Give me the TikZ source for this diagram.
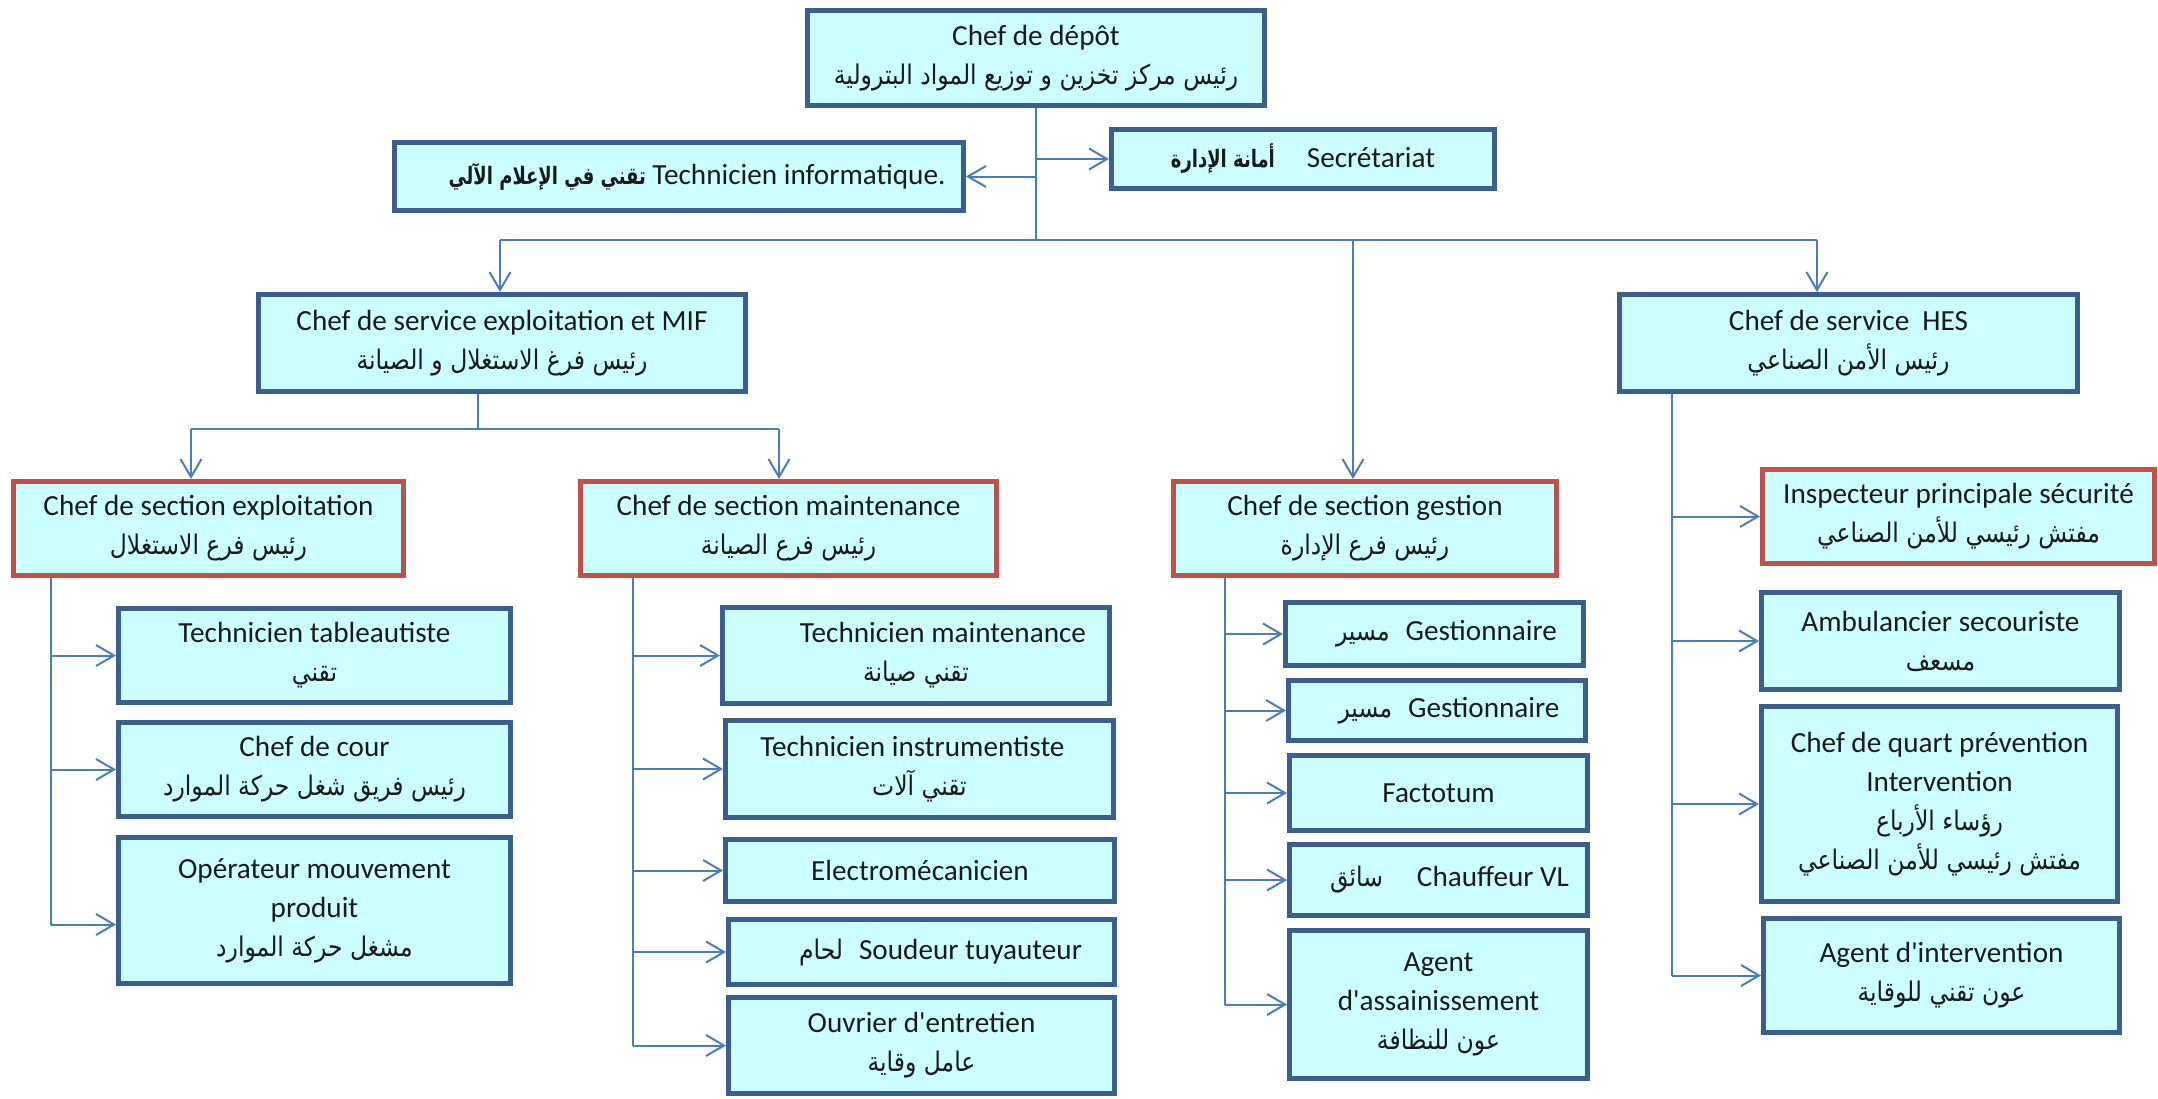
\documentclass[tikz,border=0pt]{standalone}
\usepackage{fontspec}
\setmainfont{Carlito}[Ligatures=TeXOff]
\newfontfamily\arfont[Script=Arabic,FakeStretch=0.87]{DejaVu Sans}
\newfontfamily\arcond[Script=Arabic,FakeStretch=0.75]{DejaVu Sans}
\TeXXeTstate=1
\usetikzlibrary{arrows.meta}
\definecolor{boxfill}{HTML}{CCFFFF}
\definecolor{boxnavy}{HTML}{3A5F8F}
\definecolor{boxred}{HTML}{C0504D}
\definecolor{linkblue}{HTML}{4A7EBB}
\definecolor{txtcol}{HTML}{1A1A1A}
\newcommand\artx[1]{{\arfont\fontsize{13.5}{19.5}\selectfont\beginR#1\endR}}
\newcommand\artb[1]{{\arcond\bfseries\fontsize{12}{19.5}\selectfont\beginR#1\endR}}
\tikzset{
  box/.style={draw=boxnavy, line width=2.5pt, fill=boxfill, align=center, inner sep=0pt,
    text=txtcol, font=\fontsize{14.6}{19.5}\selectfont},
  redbox/.style={box, draw=boxred},
  link/.style={draw=linkblue, line width=1pt},
  arr/.style={link, -{Straight Barb[length=9pt,width=10.5pt]}},
}
\begin{document}
\begin{tikzpicture}[x=0.5pt,y=-0.5pt]
\useasboundingbox (0,0) rectangle (2158,1098);
% top
\node[box, minimum width=228.5pt, minimum height=47.5pt] (dep) at (1036,58)
  {Chef de dépôt\\\artx{رئيس مركز تخزين و توزيع المواد البترولية}};
\node[box, minimum width=284.5pt, minimum height=34pt] (info) at (679,176.5)
  {\hspace*{18pt}\artb{تقني في الإعلام الآلي} Technicien informatique.};
\node[box, minimum width=191.5pt, minimum height=29.5pt] (sec) at (1303,159)
  {\artb{أمانة الإدارة}\hspace{16pt}Secrétariat};
% services
\node[box, minimum width=243.5pt, minimum height=48.5pt] (sexpl) at (502,343)
  {Chef de service exploitation et MIF\\\artx{رئيس فرغ الاستغلال و الصيانة}};
\node[box, minimum width=229pt, minimum height=48.5pt] (shes) at (1848.5,343)
  {Chef de service\ \ HES\\\artx{رئيس الأمن الصناعي}};
% sections
\node[redbox, minimum width=195pt, minimum height=47pt] (secexp) at (208.5,528.5)
  {Chef de section exploitation\\\artx{رئيس فرع الاستغلال}};
\node[redbox, minimum width=208pt, minimum height=47pt] (secmnt) at (788.5,528.5)
  {Chef de section maintenance\\\artx{رئيس فرع الصيانة}};
\node[redbox, minimum width=191.5pt, minimum height=47pt] (secges) at (1365,528.5)
  {Chef de section gestion\\\artx{رئيس فرع الإدارة}};
\node[redbox, minimum width=196pt, minimum height=47pt] (insp) at (1958.5,516.5)
  {Inspecteur principale sécurité\\\artx{مفتش رئيسي للأمن الصناعي}};
% exploitation
\node[box, minimum width=196pt, minimum height=47pt] (t1) at (314.5,655.5)
  {Technicien tableautiste\\\artx{تقني}};
\node[box, minimum width=196pt, minimum height=47pt] (t2) at (314.5,769.5)
  {Chef de cour\\\artx{رئيس فريق شغل حركة الموارد}};
\node[box, minimum width=196pt, minimum height=73pt] (t3) at (314.5,910.5)
  {Opérateur mouvement\\produit\\\artx{مشغل حركة الموارد}};
% maintenance
\node[box, minimum width=193.5pt, minimum height=48pt] (m1) at (916,655.5)
  {\hspace*{27pt}Technicien maintenance\\\artx{تقني صيانة}};
\node[box, minimum width=194pt, minimum height=48.5pt] (m2) at (919.5,769)
  {Technicien instrumentiste\hspace*{7pt}\\\artx{تقني آلات}};
\node[box, minimum width=194.5pt, minimum height=31pt] (m3) at (920,870.5)
  {Electromécanicien};
\node[box, minimum width=193pt, minimum height=32.5pt] (m4) at (921.5,952)
  {\hspace*{19pt}\artx{لحام}\hspace{8pt}Soudeur tuyauteur};
\node[box, minimum width=193pt, minimum height=48pt] (m5) at (921.5,1045.5)
  {Ouvrier d'entretien\\\artx{عامل وقاية}};
% gestion
\node[box, minimum width=149pt, minimum height=31.5pt] (g1) at (1434.5,634)
  {\hspace*{12pt}\artx{مسير}\hspace{8pt}Gestionnaire};
\node[box, minimum width=148.5pt, minimum height=30pt] (g2) at (1437,710.5)
  {\hspace*{12pt}\artx{مسير}\hspace{8pt}Gestionnaire};
\node[box, minimum width=149pt, minimum height=37.5pt] (g3) at (1438.5,793)
  {Factotum};
\node[box, minimum width=149pt, minimum height=35.5pt] (g4) at (1438.5,880)
  {\hspace*{11pt}\artx{سائق}\hspace{17pt}Chauffeur VL};
\node[box, minimum width=149pt, minimum height=74pt] (g5) at (1438.5,1004.5)
  {Agent\\d'assainissement\\\artx{عون للنظافة}};
% HES
\node[box, minimum width=179pt, minimum height=48.5pt] (h1) at (1940.5,641)
  {Ambulancier secouriste\\\artx{مسعف}};
\node[box, minimum width=178pt, minimum height=97.5pt] (h2) at (1939.5,804)
  {Chef de quart prévention\\Intervention\\\artx{رؤساء الأرباع}\\\artx{مفتش رئيسي للأمن الصناعي}};
\node[box, minimum width=178pt, minimum height=57pt] (h3) at (1941.5,975.5)
  {Agent d'intervention\\\artx{عون تقني للوقاية}};
% connectors: top
\coordinate (jt) at (1036,240);
\coordinate (hl) at (500,240);
\coordinate (hm) at (1353,240);
\coordinate (hr) at (1817,240);
\draw[link] (dep.south) -- (jt);
\draw[arr] (dep.south |- info.east) -- (info.east);
\draw[arr] (dep.south |- sec.west) -- (sec.west);
\draw[link] (hl) -- (hr);
\draw[arr] (hl) -- (hl |- sexpl.north);
\draw[arr] (hm) -- (hm |- secges.north);
\draw[arr] (hr) -- (hr |- shes.north);
% service exploitation to sections
\coordinate (se) at (478,429);
\coordinate (sl) at (191,429);
\coordinate (sr) at (779,429);
\draw[link] (sexpl.south -| se) -- (se);
\draw[link] (sl) -- (sr);
\draw[arr] (sl) -- (sl |- secexp.north);
\draw[arr] (sr) -- (sr |- secmnt.north);
% exploitation branch
\coordinate (ve) at (51,0);
\coordinate (t3in) at ([yshift=-7pt]t3.west);
\draw[link] (secexp.south -| ve) -- (ve |- t3in);
\draw[arr] (ve |- t1.west) -- (t1.west);
\draw[arr] (ve |- t2.west) -- (t2.west);
\draw[arr] (ve |- t3in) -- (t3in);
% maintenance branch
\coordinate (vm) at (633,0);
\draw[link] (secmnt.south -| vm) -- (vm |- m5.west);
\foreach \n in {m1,m2,m3,m4,m5}{\draw[arr] (vm |- \n.west) -- (\n.west);}
% gestion branch
\coordinate (vg) at (1225,0);
\draw[link] (secges.south -| vg) -- (vg |- g5.west);
\foreach \n in {g1,g2,g3,g4,g5}{\draw[arr] (vg |- \n.west) -- (\n.west);}
% HES branch
\coordinate (vh) at (1672,0);
\draw[link] (shes.south -| vh) -- (vh |- h3.west);
\foreach \n in {insp,h1,h2,h3}{\draw[arr] (vh |- \n.west) -- (\n.west);}
\end{tikzpicture}
\end{document}
